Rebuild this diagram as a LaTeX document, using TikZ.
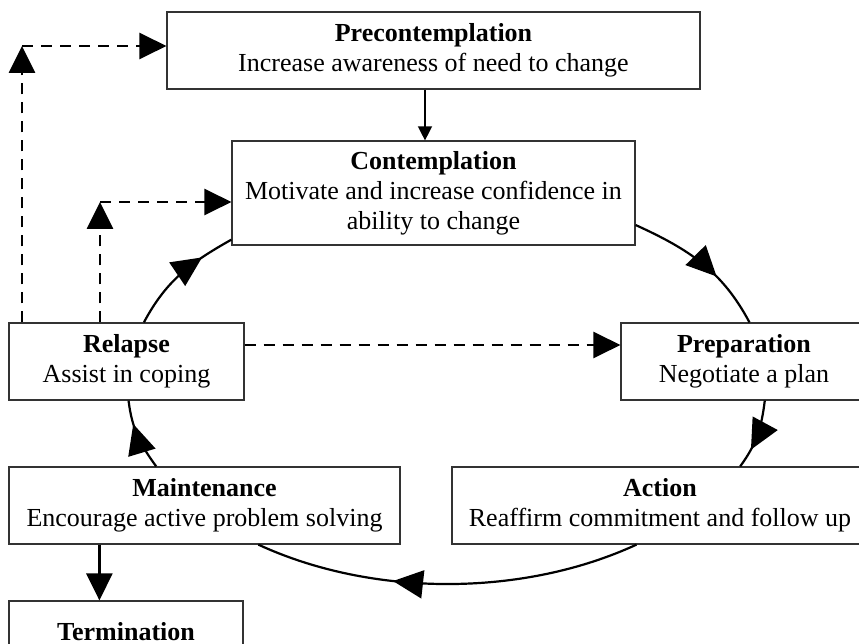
\documentclass[tikz,border=0pt]{standalone}
\usepackage{fontspec}
\setmainfont{Liberation Serif}
\usepackage{tikz}
\usetikzlibrary{arrows.meta,calc,decorations.markings}

\begin{document}
\begin{tikzpicture}[x=0.5pt, y=0.5pt,
    stagebox/.style={draw=black!80, line width=0.6pt, fill=white, align=center, inner sep=2pt,
      minimum height=38.5pt, font=\fontsize{13}{15}\selectfont},
    bigtip/.style={-{Triangle[length=13.5pt, width=13pt]}},
    dsh/.style={bigtip, line width=1.4pt, dash pattern=on 5.5pt off 4pt},
    cyc/.style={line width=1.1pt, postaction=decorate, decoration={markings,
      mark=at position #1 with {\arrow{Triangle[length=15pt, width=14pt]}}}}]
  \useasboundingbox (0,0) rectangle (859,644);
  \clip (0,0) rectangle (859,644);
  \node[stagebox, minimum width=266.5pt] (pre) at (433.5,593.5) {\textbf{Precontemplation}\\Increase awareness of need to change};
  \node[stagebox, minimum width=201.5pt, minimum height=52pt] (con) at (433.5,451) {\textbf{Contemplation}\\Motivate and increase confidence in\\ability to change};
  \node[stagebox, minimum width=117.5pt] (rel) at (126.5,282.5) {\textbf{Relapse}\\Assist in coping};
  \node[stagebox, minimum width=123pt] (prep) at (744,282.5) {\textbf{Preparation}\\Negotiate a plan};
  \node[stagebox, minimum width=195.5pt] (main) at (204.5,138.5) {\textbf{Maintenance}\\Encourage active problem solving};
  \node[stagebox, minimum width=208pt] (act) at (660,138.5) {\textbf{Action}\\Reaffirm commitment and follow up};
  \node[stagebox, minimum width=117pt, minimum height=31pt] (term) at (126,12) {\textbf{Termination}};
  \draw[cyc=0.63] (con.-9.2) to[out=-24.5, in=118] (prep.82.6);
  \draw[cyc=0.72] (prep.-62.5) to[out=-97, in=53.7] (act.26.9);
  \draw[cyc=0.64] (act.-121.9) to[out=-155.2, in=-24.8, looseness=0.85] (main.-36.8);
  \draw[cyc=0.67] (main.141.6) to[out=126.3, in=-83] (rel.-87.8);
  \draw[cyc=0.72] (rel.66.8) to[out=62, in=-150.7] (con.-167.4);
  \draw[line width=0.7pt, -{Triangle[length=7pt, width=7pt]}] ([xshift=-4.25pt]pre.south) -- ([xshift=-4.25pt]con.north);
  \draw[bigtip, line width=1.3pt] ([xshift=45.5pt]main.south west) -- ([xshift=45.5pt]term.north west);
  \coordinate (up1) at (22,598);
  \coordinate (up2) at (100,442);
  \draw[dsh] (rel.north -| up1) -- (up1);
  \draw[dsh] (up1) -- (up1 -| pre.west);
  \draw[dsh] (rel.north -| up2) -- (up2);
  \draw[dsh] (up2) -- (up2 -| con.west);
  \draw[dsh] ([yshift=8.25pt]rel.east) -- ([yshift=8.25pt]prep.west);
\end{tikzpicture}
\end{document}
